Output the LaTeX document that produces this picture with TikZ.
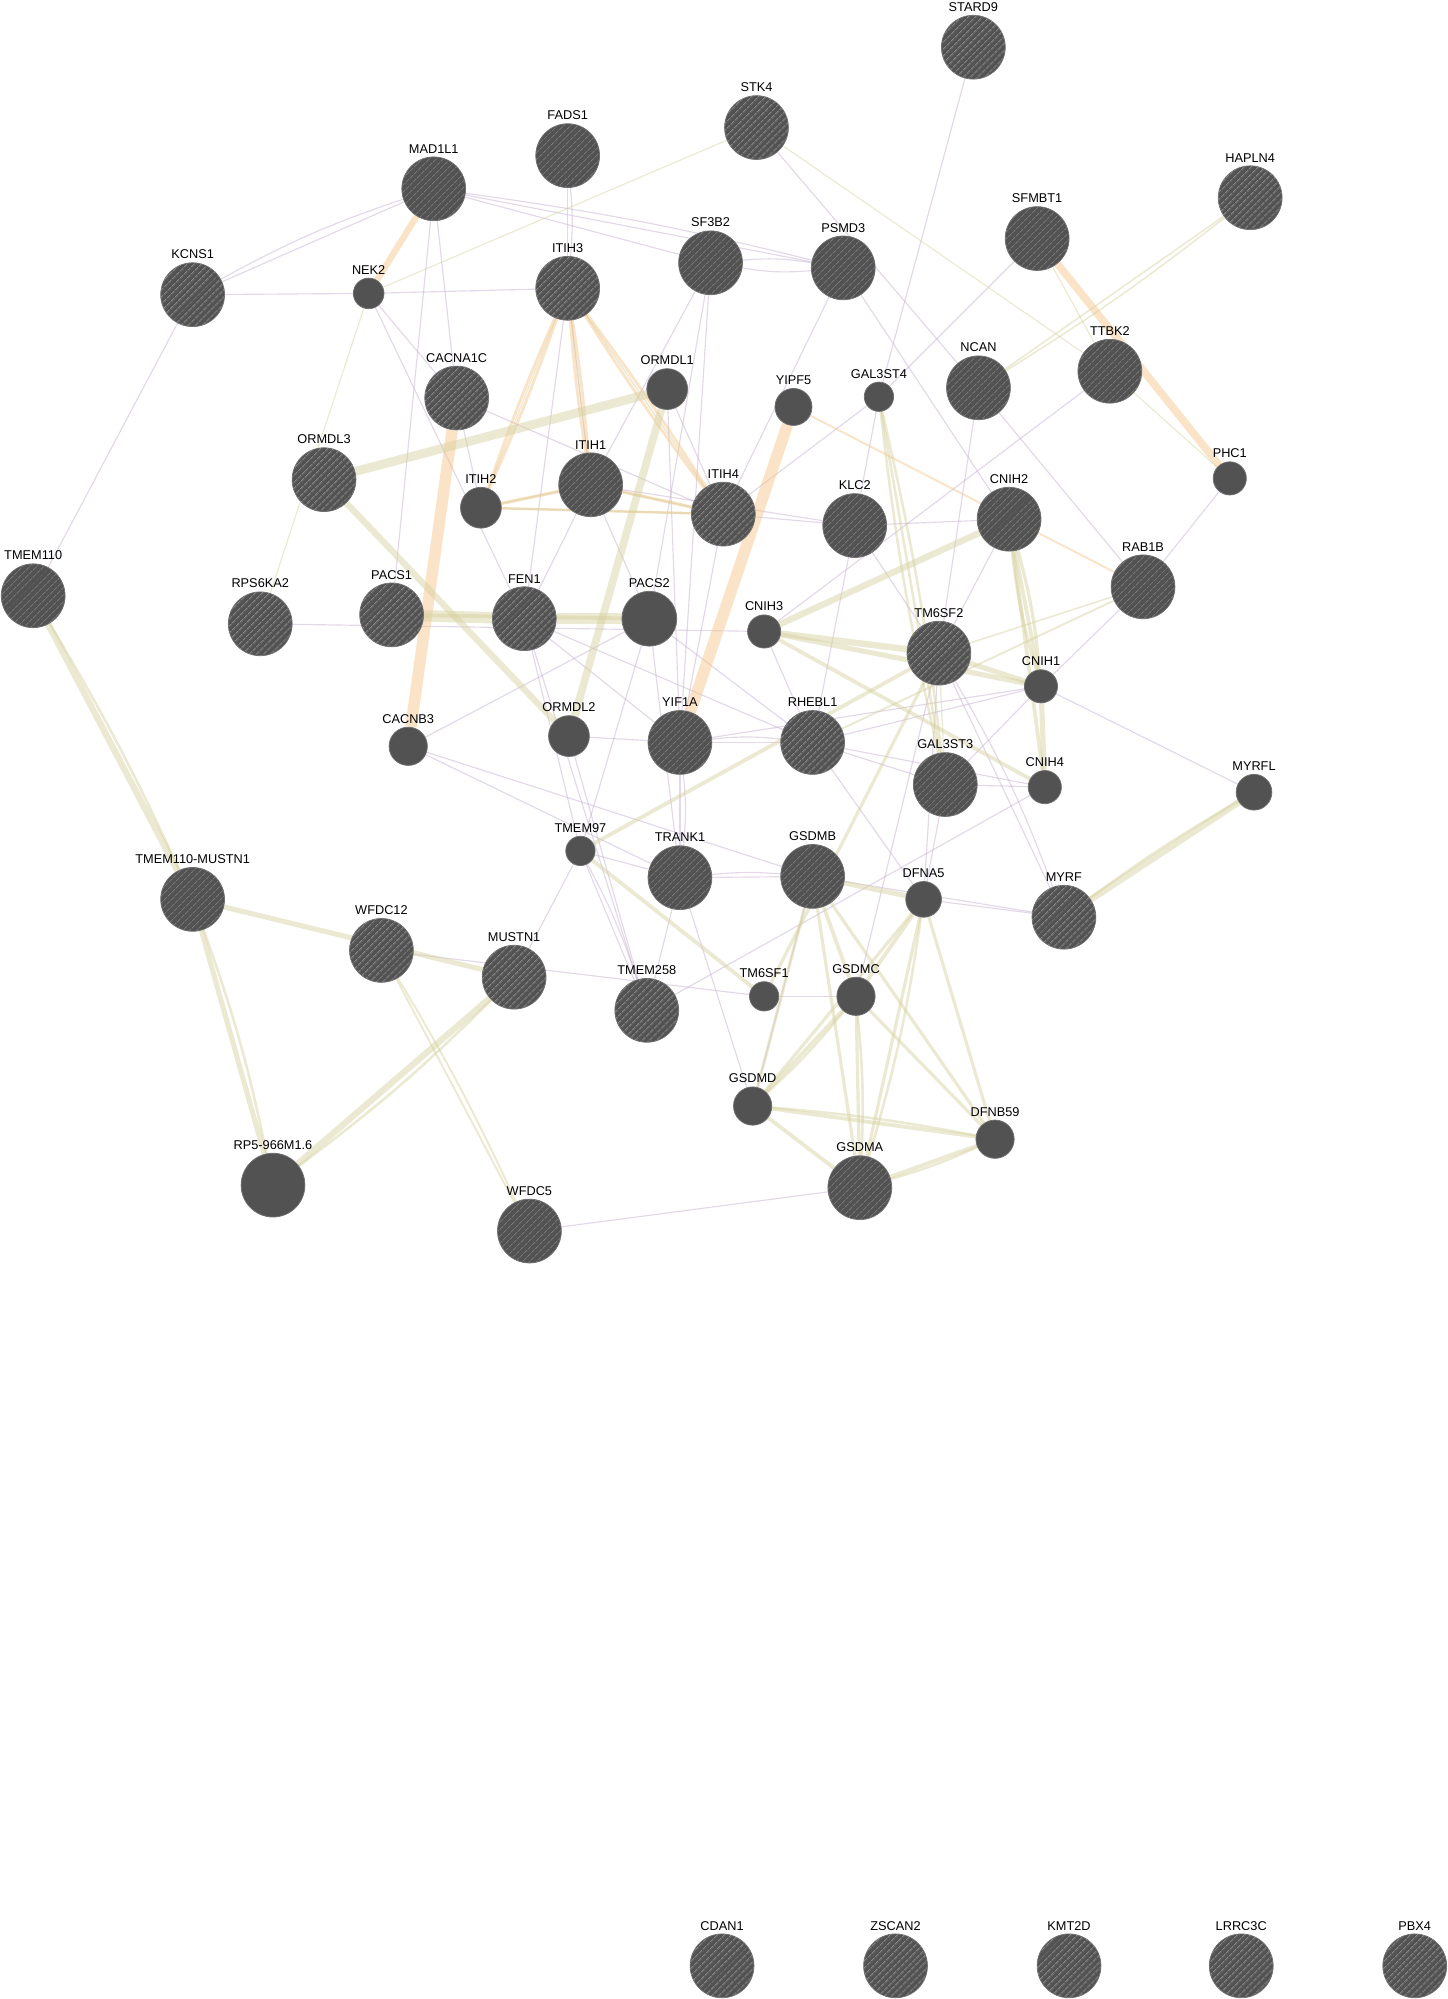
\documentclass[tikz,border=0pt]{standalone}
\usepackage{fontspec}
\setmainfont{Liberation Sans}
\usetikzlibrary{patterns.meta,backgrounds}

\definecolor{nodefill}{RGB}{82,82,82}
\definecolor{nodering}{RGB}{112,112,112}
\definecolor{hatchline}{RGB}{118,118,118}
\definecolor{coexp}{RGB}{200,178,210}
\definecolor{domain}{RGB}{214,208,156}
\definecolor{predict}{RGB}{246,195,132}

\tikzset{
  hub/.style={circle, inner sep=0pt, minimum size=#1, fill=nodefill, draw=nodering, line width=0.6pt},
  hub/.default=50pt,
  gene/.style={hub=#1, postaction={pattern={Lines[angle=45,distance=4pt,line width=0.8pt]}, pattern color=hatchline}},
  gene/.default=50pt,
  coexp edge/.style={draw=coexp, draw opacity=0.5, line width=0.9pt},
  domain edge/.style={draw=domain, draw opacity=0.45},
  predict edge/.style={draw=predict, draw opacity=0.45},
  every label/.style={font=\fontsize{10}{12}\selectfont, inner sep=0pt, text=black},
}

\begin{document}
\begin{tikzpicture}[x=1pt, y=-1pt, label distance=2.5pt]
\useasboundingbox (0,0) rectangle (1135,1567);

% genes
\node[gene, label=above:STARD9] (stard9) at (763,37) {};
\node[gene, label=above:STK4] (stk4) at (593,100) {};
\node[gene, label=above:FADS1] (fads1) at (445,122) {};
\node[gene, label=above:MAD1L1] (mad1l1) at (340,148) {};
\node[gene, label=above:HAPLN4] (hapln4) at (980,155) {};
\node[gene, label=above:SFMBT1] (sfmbt1) at (813,187) {};
\node[gene, label=above:SF3B2] (sf3b2) at (557,206) {};
\node[gene, label=above:PSMD3] (psmd3) at (661,210) {};
\node[gene, label=above:KCNS1] (kcns1) at (151,231) {};
\node[hub=24pt, label=above:NEK2] (nek2) at (289,230) {};
\node[gene, label=above:ITIH3] (itih3) at (445,226) {};
\node[gene, label=above:TTBK2] (ttbk2) at (870,291) {};
\node[gene, label=above:NCAN] (ncan) at (767,304) {};
\node[gene, label=above:CACNA1C] (cacna1c) at (358,312) {};
\node[hub=32pt, label=above:ORMDL1] (ormdl1) at (523,305) {};
\node[hub=29pt, label=above:YIPF5] (yipf5) at (622,319) {};
\node[hub=23pt, label=above:GAL3ST4] (gal3st4) at (689,311) {};
\node[hub=26pt, label=above:PHC1] (phc1) at (964,375) {};
\node[gene, label=above:ORMDL3] (ormdl3) at (254,376) {};
\node[gene, label=above:ITIH1] (itih1) at (463,380) {};
\node[hub=32pt, label=above:ITIH2] (itih2) at (377,398) {};
\node[gene, label=above:ITIH4] (itih4) at (567,403) {};
\node[gene, label=above:KLC2] (klc2) at (670,412) {};
\node[gene, label=above:CNIH2] (cnih2) at (791,407) {};
\node[gene, label=above:RAB1B] (rab1b) at (896,460) {};
\node[gene, label=above:TMEM110] (tmem110) at (26,467) {};
\node[gene, label=above:RPS6KA2] (rps6ka2) at (204,489) {};
\node[gene, label=above:PACS1] (pacs1) at (307,482) {};
\node[gene, label=above:FEN1] (fen1) at (411,485) {};
\node[hub=43pt, label=above:PACS2] (pacs2) at (509,485) {};
\node[hub=26pt, label=above:CNIH3] (cnih3) at (599,495) {};
\node[gene, label=above:TM6SF2] (tm6sf2) at (736,512) {};
\node[hub=26pt, label=above:CNIH1] (cnih1) at (816,538) {};
\node[hub=30pt, label=above:CACNB3] (cacnb3) at (320,585) {};
\node[hub=32pt, label=above:ORMDL2] (ormdl2) at (446,577) {};
\node[gene, label=above:YIF1A] (yif1a) at (533,582) {};
\node[gene, label=above:RHEBL1] (rhebl1) at (637,582) {};
\node[gene, label=above:GAL3ST3] (gal3st3) at (741,615) {};
\node[hub=26pt, label=above:CNIH4] (cnih4) at (819,617) {};
\node[hub=28pt, label=above:MYRFL] (myrfl) at (983,621) {};
\node[hub=23pt, label=above:TMEM97] (tmem97) at (455,667) {};
\node[gene, label=above:TRANK1] (trank1) at (533,688) {};
\node[gene, label=above:GSDMB] (gsdmb) at (637,687) {};
\node[hub=28pt, label=above:DFNA5] (dfna5) at (724,705) {};
\node[gene, label=above:TMEM110-MUSTN1] (tmmustn) at (151,705) {};
\node[gene, label=above:MYRF] (myrf) at (834,719) {};
\node[gene, label=above:WFDC12] (wfdc12) at (299,745) {};
\node[gene, label=above:MUSTN1] (mustn1) at (403,766) {};
\node[gene, label=above:TMEM258] (tmem258) at (507,792) {};
\node[hub=23pt, label=above:TM6SF1] (tm6sf1) at (599,781) {};
\node[hub=30pt, label=above:GSDMC] (gsdmc) at (671,781) {};
\node[hub=30pt, label=above:GSDMD] (gsdmd) at (590,867) {};
\node[hub=30pt, label=above:DFNB59] (dfnb59) at (780,893) {};
\node[hub, label=above:RP5-966M1.6] (rpfive) at (214,929) {};
\node[gene, label=above:GSDMA] (gsdma) at (674,931) {};
\node[gene, label=above:WFDC5] (wfdc5) at (415,965) {};
% unconnected genes
\foreach \g/\x in {CDAN1/566, ZSCAN2/702, KMT2D/838, LRRC3C/973, PBX4/1109}
  \node[gene, label=above:\g] (\g) at (\x,1541) {};

\begin{scope}[on background layer]
\fill[white] (0,0) rectangle (1135,1567);
% co-expression
\foreach \a/\b in {kcns1/mad1l1, kcns1/nek2, kcns1/tmem110, nek2/itih3, nek2/cacna1c,
  nek2/fen1, mad1l1/cacna1c, mad1l1/pacs1, mad1l1/sf3b2, mad1l1/psmd3, fads1/itih3,
  sf3b2/itih1, sf3b2/pacs2, sf3b2/yif1a, psmd3/itih4, psmd3/cnih2, stk4/ncan,
  stard9/gal3st4, sfmbt1/gal3st4, gal3st4/klc2, gal3st4/itih4, ncan/tm6sf2, ncan/rab1b,
  ttbk2/cnih3, phc1/rab1b, cacna1c/itih4, cacna1c/itih2, itih3/fen1, itih3/itih1,
  itih1/fen1, itih1/pacs2, itih1/klc2, itih4/klc2, klc2/cnih2, itih4/yif1a,
  ormdl1/itih4, ormdl1/yif1a, klc2/rhebl1, klc2/tm6sf2, cnih2/tm6sf2, rps6ka2/cnih3,
  fen1/tmem97, fen1/tmem258, fen1/rhebl1, fen1/yif1a, cacnb3/pacs2, cacnb3/trank1,
  cacnb3/gsdmb, ormdl2/yif1a, ormdl2/tmem258, pacs2/tmem97, pacs2/trank1, pacs2/rhebl1,
  yif1a/rhebl1, yif1a/trank1, cnih3/rhebl1, trank1/gsdmb, tmem97/mustn1, tmem97/trank1,
  tmem97/tmem258, trank1/tmem258, trank1/gsdmd, wfdc12/tm6sf1, tm6sf1/gsdmc,
  wfdc5/gsdma, cnih4/tmem258, gsdmb/myrf, dfna5/myrf, gal3st3/dfna5, rhebl1/dfna5,
  rhebl1/gal3st3, rhebl1/cnih4, gal3st3/cnih4, tm6sf2/myrf, tm6sf2/gsdmc, tm6sf2/dfna5,
  cnih1/myrfl, cnih1/rab1b, cnih1/gal3st3, gsdmd/gsdmb, rhebl1/cnih1, yif1a/cnih1}
  \draw[coexp edge] (\a) -- (\b);
\foreach \a/\b/\k in {sf3b2/psmd3/7, sf3b2/psmd3/-7, kcns1/mad1l1/5, fads1/itih3/5,
  trank1/gsdmb/5, yif1a/rhebl1/6, tm6sf2/myrf/5, tmem97/tmem258/5, mad1l1/psmd3/3,
  yif1a/trank1/6}
  \draw[coexp edge] (\a) to[bend left=\k] (\b);
% predicted
\foreach \a/\b/\w in {nek2/mad1l1/5, cacna1c/cacnb3/9, yipf5/yif1a/9, sfmbt1/phc1/6,
  itih2/itih1/2.5, itih1/itih4/2.5, itih2/itih4/2, yipf5/rab1b/1.5}
  \draw[predict edge, line width=\w pt] (\a) -- (\b);
\foreach \a/\b/\k in {itih3/itih2/2, itih3/itih2/-2, itih3/itih1/2, itih3/itih1/-2,
  itih3/itih4/2, itih3/itih4/-2}
  \draw[predict edge, line width=2.2pt] (\a) to[bend left=\k] (\b);
% shared protein domains
\foreach \a/\b/\w in {nek2/stk4/0.9, nek2/rps6ka2/0.9, stk4/ttbk2/0.9, sfmbt1/ttbk2/0.9,
  ttbk2/phc1/0.9, hapln4/ncan/1.2, ormdl3/ormdl1/7, ormdl3/ormdl2/5, ormdl1/ormdl2/6,
  pacs1/fen1/9, fen1/pacs2/9, pacs1/pacs2/3, itih3/itih2/1, itih3/itih1/1,
  itih3/itih4/1.2, itih2/itih1/1.5, itih2/itih4/1.5, itih1/itih4/1.5,
  gal3st4/gal3st3/2, tm6sf2/gal3st3/1, cnih3/cnih2/5, cnih3/tm6sf2/5, cnih3/cnih1/4,
  cnih3/cnih4/3, cnih2/cnih1/3, cnih2/cnih4/3, cnih1/cnih4/4, tm6sf2/cnih1/4,
  rab1b/rhebl1/1.5, rab1b/tm6sf2/1.2, tm6sf2/tmem97/3, tmem97/tm6sf1/3,
  tm6sf2/tm6sf1/2.5, gsdmb/dfna5/4, gsdmb/gsdmc/3, gsdmb/gsdmd/2.5, gsdmb/gsdma/2.5,
  gsdmb/dfnb59/2.5, dfna5/gsdmc/3, dfna5/gsdmd/2.5, dfna5/gsdma/2.5, dfna5/dfnb59/2.5,
  gsdmc/gsdmd/3, gsdmc/gsdma/2.5, gsdmc/dfnb59/2.5, gsdmd/gsdma/3, gsdmd/dfnb59/3,
  gsdma/dfnb59/3, myrf/myrfl/5, tmem110/tmmustn/5, tmmustn/mustn1/4, tmmustn/rpfive/4,
  mustn1/rpfive/5, wfdc12/wfdc5/1.5}
  \draw[domain edge, line width=\w pt] (\a) -- (\b);
\foreach \a/\b/\w/\k in {hapln4/ncan/1.2/3, gal3st4/gal3st3/2/3, gal3st4/gal3st3/2/-3,
  wfdc12/wfdc5/1.5/3, tmmustn/rpfive/2/4, mustn1/rpfive/2/4, tmem110/tmmustn/2/3,
  cnih2/cnih1/2.5/5, cnih2/cnih1/2.5/-5, dfna5/gsdma/2/4, gsdmd/dfnb59/2/3,
  gsdma/dfnb59/2/-4, gsdmc/gsdma/2/4, gsdmc/gsdmd/2/4, myrf/myrfl/2/3}
  \draw[domain edge, line width=\w pt] (\a) to[bend left=\k] (\b);
\end{scope}
\end{tikzpicture}
\end{document}
